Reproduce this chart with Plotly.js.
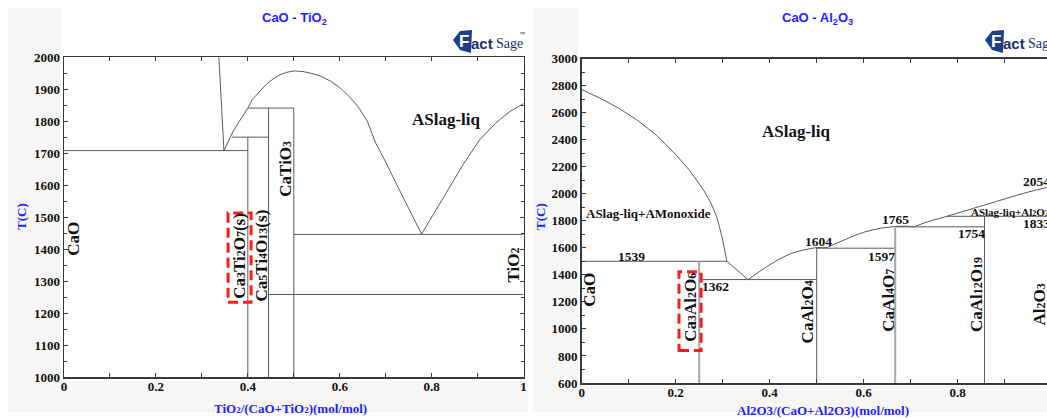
<!DOCTYPE html>
<html><head><meta charset="utf-8">
<script src="https://cdn.plot.ly/plotly-3.0.1.min.js"></script>
<style>html,body{margin:0;padding:0;overflow:hidden;background:#fff;} #chart{width:1080px;height:419px;}</style>
</head><body><div id="chart"></div>
<script>
// ---------- CaO - TiO2 (left) ----------
const tio2_cao_liq_x = [0.337, 0.348];
const tio2_cao_liq_T = [2000, 1707];
const tio2_dome_x = [0.348,0.355,0.365,0.375,0.387,0.400,0.410,0.425,0.440,0.455,0.470,0.485,0.502,0.520,0.540,0.560,0.580,0.600,0.620,0.640,0.660,0.677,0.700,0.728,0.750,0.778];
const tio2_dome_T = [1707,1730,1760,1785,1812,1841,1868,1893,1915,1932,1945,1953,1957,1955,1949,1940,1925,1905,1878,1845,1800,1735,1672,1590,1528,1447];
const tio2_right_x = [0.778,0.800,0.838,0.870,0.904,0.940,0.970,1.000];
const tio2_right_T = [1447,1500,1593,1668,1741,1795,1830,1855];
const tio2_h_x0 = [0, 0.365, 0.400, 0.500, 0.445];
const tio2_h_x1 = [0.400, 0.445, 0.500, 1.000, 1.000];
const tio2_h_T  = [1708, 1750, 1841, 1446, 1258];
const tio2_v_x  = [0.400, 0.445, 0.500];
const tio2_v_T0 = [1750, 1841, 1841];
const tio2_v_T1 = [1000, 1000, 1000];
const tio2_xticks = [0, 0.2, 0.4, 0.6, 0.8, 1];
const tio2_yticks = [1000,1100,1200,1300,1400,1500,1600,1700,1800,1900,2000];

// ---------- CaO - Al2O3 (right) ----------
const al_cao_liq_x = [0, 0.040, 0.080, 0.120, 0.160, 0.200, 0.230, 0.259, 0.275, 0.287, 0.298, 0.309];
const al_cao_liq_T = [2770, 2705, 2630, 2540, 2430, 2290, 2170, 2029, 1930, 1832, 1690, 1500];
const al_eut1_x = [0.309, 0.354];
const al_eut1_T = [1500, 1365];
const al_liq2_x = [0.354,0.375,0.394,0.420,0.443,0.470,0.500,0.520,0.540,0.560,0.580,0.600,0.620,0.640,0.667,0.690,0.706];
const al_liq2_T = [1365,1415,1462,1515,1555,1583,1602,1600,1628,1660,1690,1715,1733,1747,1758,1760,1755];
const al_liq3_x = [0.706,0.740,0.777,0.820,0.857,0.900,0.940,0.970,1.000];
const al_liq3_T = [1755,1797,1833,1878,1918,1963,2003,2030,2054];
const al_h_x0 = [0, 0.250, 0.500, 0.667, 0.777];
const al_h_x1 = [0.309, 0.500, 0.667, 0.857, 1.000];
const al_h_T  = [1500, 1365, 1597, 1755, 1833];
const al_v_x  = [0.500, 0.857];
const al_v_T0 = [1602, 1833];
const al_v_x_light = [0.250, 0.667];
const al_v_T0_light = [1500, 1758];
const al_vmin = 600;
const al_num_labels = ["1539","1362","1604","1597","1765","1754","2054","1833"];
const al_num_x = [0.106, 0.284, 0.503, 0.638, 0.667, 0.830, 0.968, 0.968];
const al_num_T = [1536, 1315, 1647, 1536, 1807, 1709, 2090, 1783];
const al_xticks = [0, 0.2, 0.4, 0.6, 0.8, 1];
const al_yticks = [600,800,1000,1200,1400,1600,1800,2000,2200,2400,2600,2800,3000];

// ---------- helpers ----------
const W = 1080, H = 419;
const PX = x => x / W, PY = y => 1 - y / H;
const LC = '#5a5a5a';
const sb = (d, sz) => `<span style="font-size:${sz}px">${d}</span>`;
const tio2_labels = ["ASlag-liq", "CaO",
  `Ca${sb(3,12)}Ti${sb(2,12)}O${sb(7,12)}(s)`,
  `Ca${sb(5,12)}Ti${sb(4,12)}O${sb(13,12)}(s)`,
  `CaTiO${sb(3,12)}`, `TiO${sb(2,12)}`];
const tio2_label_x = [0.833, 0.021, 0.383, 0.430, 0.482, 0.978];
const tio2_label_T = [1804, 1431, 1379, 1379, 1650, 1350];
const tio2_label_rot = [0, -90, -90, -90, -90, -90];
const al_rot_labels = ["CaO", `Ca${sb(3,12)}Al${sb(2,12)}O${sb(6,12)}`, `CaAl${sb(2,12)}O${sb(4,12)}`,
  `CaAl${sb(4,12)}O${sb(7,12)}`, `CaAl${sb(12,12)}O${sb(19,12)}`, `Al${sb(2,12)}O${sb(3,12)}`];
const al_rot_x = [0.018, 0.231, 0.481, 0.652, 0.840, 0.975];
const al_rot_T = [1290, 1158, 1128, 1210, 1254, 1180];

function segs(x0, x1, y0, y1) {
  const xs = [], ys = [];
  for (let i = 0; i < x0.length; i++) { xs.push(x0[i], x1[i], null); ys.push(y0[i], y1[i], null); }
  return {xs, ys};
}
function line(x, y, xa, ya, color, width) {
  return {x: x, y: y, xaxis: xa, yaxis: ya, type: 'scatter', mode: 'lines',
          line: {color: color || LC, width: width || 1}, hoverinfo: 'skip', showlegend: false, connectgaps: false};
}
const traces = [];
traces.push(line(tio2_cao_liq_x, tio2_cao_liq_T, 'x', 'y'));
traces.push(line(tio2_dome_x, tio2_dome_T, 'x', 'y'));
traces.push(line(tio2_right_x, tio2_right_T, 'x', 'y'));
let s = segs(tio2_h_x0, tio2_h_x1, tio2_h_T, tio2_h_T);
traces.push(line(s.xs, s.ys, 'x', 'y'));
s = segs(tio2_v_x, tio2_v_x, tio2_v_T0, tio2_v_T1);
traces.push(line(s.xs, s.ys, 'x', 'y'));
traces.push(line(al_cao_liq_x, al_cao_liq_T, 'x2', 'y2'));
traces.push(line(al_eut1_x, al_eut1_T, 'x2', 'y2'));
traces.push(line(al_liq2_x, al_liq2_T, 'x2', 'y2'));
traces.push(line(al_liq3_x, al_liq3_T, 'x2', 'y2'));
s = segs(al_h_x0, al_h_x1, al_h_T, al_h_T);
traces.push(line(s.xs, s.ys, 'x2', 'y2'));
s = segs(al_v_x, al_v_x, al_v_T0, al_v_x.map(() => al_vmin));
traces.push(line(s.xs, s.ys, 'x2', 'y2'));
s = segs(al_v_x_light, al_v_x_light, al_v_T0_light, al_v_x_light.map(() => al_vmin));
traces.push(line(s.xs, s.ys, 'x2', 'y2', '#a8a8a8', 2));

const tickFont = {family: 'Liberation Serif', size: 13, color: '#111', weight: 'bold'};
function xax(dom, anchor, ticks) {
  return {domain: dom, anchor: anchor, range: [0, 1], tickvals: ticks, ticktext: ticks.map(String),
    showline: true, mirror: 'allticks', linecolor: '#3a3a3a', linewidth: 1.5,
    ticks: 'inside', ticklen: 4, tickwidth: 1, tickcolor: '#3a3a3a', ticklabelstandoff: -3,
    minor: {tickvals: [0.1,0.3,0.5,0.7,0.9], ticks: 'inside', ticklen: 4, tickcolor: '#3a3a3a', showgrid: false},
    showgrid: false, zeroline: false, tickfont: tickFont, fixedrange: true};
}
function yax(dom, anchor, range, ticks, minorStep) {
  return {domain: dom, anchor: anchor, range: range, tickvals: ticks, ticktext: ticks.map(String),
    showline: true, mirror: 'allticks', linecolor: '#3a3a3a', linewidth: 1.5,
    ticks: 'inside', ticklen: 4, tickwidth: 1, tickcolor: '#3a3a3a',
    minor: {dtick: minorStep, tick0: range[0], ticks: 'inside', ticklen: 3, tickcolor: '#3a3a3a', showgrid: false},
    showgrid: false, zeroline: false, tickfont: tickFont, fixedrange: true};
}

const serifB = (size, color) => ({family: 'Liberation Serif', size: size, color: color || '#111', weight: 'bold'});
const ann = [];
function A(o) { ann.push(Object.assign({showarrow: false, xanchor: 'center', yanchor: 'middle'}, o)); }
tio2_labels.forEach((t, i) => A({text: t, x: tio2_label_x[i], y: tio2_label_T[i], xref: 'x', yref: 'y',
  textangle: tio2_label_rot[i], font: serifB(17)}));
A({text: 'ASlag-liq', x: 0.458, y: 2459, xref: 'x2', yref: 'y2', font: serifB(17)});
A({text: 'ASlag-liq+AMonoxide', x: 0.142, y: 1857, xref: 'x2', yref: 'y2', font: serifB(13)});
A({text: `ASlag-liq+Al${sb(2,8)}O${sb(3,8)}`, x: 0.823, y: 1864, xref: 'x2', yref: 'y2', xanchor: 'left', font: serifB(11)});
al_num_labels.forEach((t, i) => A({text: t, x: al_num_x[i], y: al_num_T[i], xref: 'x2', yref: 'y2', font: serifB(13.5)}));
al_rot_labels.forEach((t, i) => A({text: t, x: al_rot_x[i], y: al_rot_T[i], xref: 'x2', yref: 'y2', textangle: -90, font: serifB(17)}));
const titleFont = {family: 'Liberation Sans', size: 13, color: '#1f1fff', weight: 'bold'};
A({text: 'CaO - TiO<sub>2</sub>', x: PX(294), y: PY(19), xref: 'paper', yref: 'paper', font: titleFont});
A({text: 'CaO - Al<sub>2</sub>O<sub>3</sub>', x: PX(817), y: PY(19), xref: 'paper', yref: 'paper', font: titleFont});
A({text: 'T(C)', x: PX(21), y: PY(217), xref: 'paper', yref: 'paper', textangle: -90, font: serifB(13, '#1f1fff')});
A({text: 'T(C)', x: PX(540), y: PY(217), xref: 'paper', yref: 'paper', textangle: -90, font: serifB(13, '#1f1fff')});
A({text: `TiO${sb(2,9)}/(CaO+TiO${sb(2,9)})(mol/mol)`, x: PX(290), y: PY(408), xref: 'paper', yref: 'paper', font: serifB(13, '#1f1fff')});
A({text: 'Al2O3/(CaO+Al2O3)(mol/mol)', x: PX(823), y: PY(410), xref: 'paper', yref: 'paper', font: serifB(13, '#1f1fff')});
// FactSage logos
[0, 532].forEach(dx => {
  A({text: 'F', x: PX(464 + dx), y: PY(42), xref: 'paper', yref: 'paper', font: {family: 'Liberation Sans', size: 17, color: '#ffffff', weight: 'bold'}});
  A({text: 'act', x: PX(469 + dx), y: PY(43), xref: 'paper', yref: 'paper', xanchor: 'left', font: {family: 'Liberation Sans', size: 15, color: '#1a2f6b', weight: 'bold'}});
  A({text: 'Sage', x: PX(494 + dx), y: PY(43), xref: 'paper', yref: 'paper', xanchor: 'left', font: {family: 'Liberation Serif', size: 14, color: '#1a2f6b'}});
  A({text: '™', x: PX(517 + dx), y: PY(34), xref: 'paper', yref: 'paper', xanchor: 'left', font: {family: 'Liberation Sans', size: 6, color: '#1a2f6b'}});
});

const shapes = [];
const gray = '#f6f6f6';
[[8,61,8,412],[8,528,381,412],[533,578,8,412],[533,1080,386,412]].forEach(r => shapes.push({type: 'rect', xref: 'paper', yref: 'paper',
  x0: PX(r[0]), x1: PX(r[1]), y0: PY(r[3]), y1: PY(r[2]), fillcolor: gray, line: {width: 0}, layer: 'below'}));
[0, 532].forEach(dx => shapes.push({type: 'path', xref: 'paper', yref: 'paper', layer: 'below',
  path: `M ${PX(453+dx)} ${PY(40)} L ${PX(460+dx)} ${PY(31)} L ${PX(472+dx)} ${PY(30)} L ${PX(471+dx)} ${PY(53)} L ${PX(460+dx)} ${PY(50)} Z`,
  fillcolor: '#1d3f87', line: {width: 0}}));
shapes.push({type: 'rect', xref: 'x', yref: 'y', x0: 0.357, x1: 0.407, y0: 1234, y1: 1513, line: {color: '#ff1a1a', width: 3, dash: '10px,5px'}});
shapes.push({type: 'rect', xref: 'x2', yref: 'y2', x0: 0.207, x1: 0.254, y0: 840, y1: 1423, line: {color: '#ff1a1a', width: 3, dash: '10px,5px'}});

const layout = {
  width: W, height: H, margin: {l: 0, r: 0, t: 0, b: 0}, autosize: false,
  paper_bgcolor: '#ffffff', plot_bgcolor: '#ffffff', showlegend: false,
  xaxis: xax([PX(64), PX(523.6)], 'y', tio2_xticks),
  yaxis: yax([PY(377), PY(57.2)], 'x', [1000, 2000], tio2_yticks, 50),
  xaxis2: xax([PX(581.7), PX(1051.7)], 'y2', al_xticks),
  yaxis2: yax([PY(383), PY(58.5)], 'x2', [600, 3000], al_yticks, 100),
  annotations: ann, shapes: shapes
};
Plotly.newPlot('chart', traces, layout, {displayModeBar: false, staticPlot: true});
</script></body></html>
